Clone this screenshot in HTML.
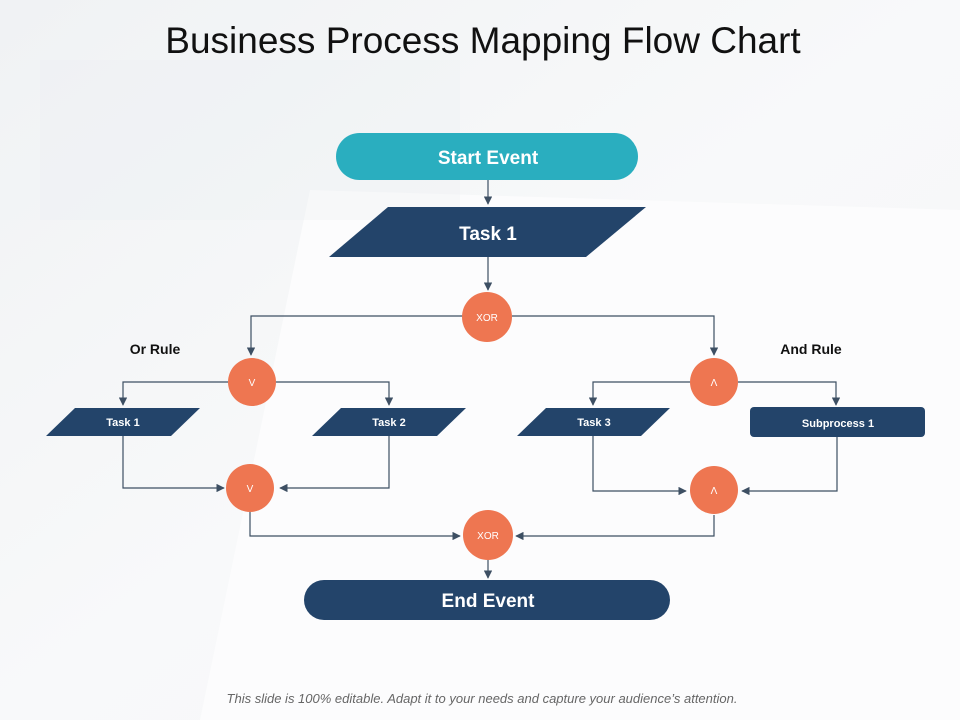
<!DOCTYPE html>
<html><head><meta charset="utf-8"><style>
html,body{margin:0;padding:0;}
body{width:960px;height:720px;overflow:hidden;background:#f7f8fa;}
svg{display:block;}
</style></head><body>
<svg width="960" height="720" viewBox="0 0 960 720" xmlns="http://www.w3.org/2000/svg" font-family="Liberation Sans, Arial, sans-serif">
<defs>
<linearGradient id="bg" x1="0" y1="0" x2="1" y2="1">
<stop offset="0" stop-color="#f0f2f4"/><stop offset="0.5" stop-color="#f8f9fa"/><stop offset="1" stop-color="#f5f6f7"/>
</linearGradient>
<marker id="ar" viewBox="0 0 10 10" refX="9" refY="5" markerWidth="7" markerHeight="7" orient="auto-start-reverse">
<path d="M0,0 L10,5 L0,10 z" fill="#3d4f63"/>
</marker>
</defs>
<rect width="960" height="720" fill="url(#bg)"/>
<polygon points="310,190 960,210 960,720 200,720" fill="#fcfcfd"/>
<rect x="40" y="60" width="420" height="160" fill="#eceff1" opacity="0.3"/>

<text x="483" y="53" text-anchor="middle" font-size="37" fill="#111">Business Process Mapping Flow Chart</text>

<g stroke="#3d4f63" stroke-width="1.2" fill="none">
<line x1="488" y1="180" x2="488" y2="204" marker-end="url(#ar)"/>
<line x1="488" y1="257" x2="488" y2="290" marker-end="url(#ar)"/>
<polyline points="463,316 251,316 251,355" marker-end="url(#ar)"/>
<polyline points="512,316 714,316 714,355" marker-end="url(#ar)"/>
<polyline points="228,382 123,382 123,405" marker-end="url(#ar)"/>
<polyline points="276,382 389,382 389,405" marker-end="url(#ar)"/>
<polyline points="123,436 123,488 224,488" marker-end="url(#ar)"/>
<polyline points="389,436 389,488 280,488" marker-end="url(#ar)"/>
<polyline points="250,512 250,536 460,536" marker-end="url(#ar)"/>
<polyline points="690,382 593,382 593,405" marker-end="url(#ar)"/>
<polyline points="738,382 836,382 836,405" marker-end="url(#ar)"/>
<polyline points="593,436 593,491 686,491" marker-end="url(#ar)"/>
<polyline points="837,437 837,491 742,491" marker-end="url(#ar)"/>
<polyline points="714,515 714,536 516,536" marker-end="url(#ar)"/>
<line x1="488" y1="560" x2="488" y2="578" marker-end="url(#ar)"/>
</g>

<rect x="336" y="133" width="302" height="47" rx="23.5" fill="#2aaebf"/>
<text x="488" y="164" text-anchor="middle" font-size="19" font-weight="bold" fill="#fff">Start Event</text>

<polygon points="388,207 646,207 586,257 329,257" fill="#23446a"/>
<text x="488" y="240" text-anchor="middle" font-size="19" font-weight="bold" fill="#fff">Task 1</text>

<g fill="#ee7651">
<circle cx="487" cy="317" r="25"/>
<circle cx="252" cy="382" r="24"/>
<circle cx="250" cy="488" r="24"/>
<circle cx="714" cy="382" r="24"/>
<circle cx="714" cy="490" r="24"/>
<circle cx="488" cy="535" r="25"/>
</g>
<g fill="#fff" font-size="10" text-anchor="middle">
<text x="487" y="321">XOR</text>
<text x="488" y="539">XOR</text>
<text x="252" y="386">V</text>
<text x="250" y="492">V</text>
<text x="714" y="386">Λ</text>
<text x="714" y="494">Λ</text>
</g>

<text x="155" y="354" text-anchor="middle" font-size="14" font-weight="bold" fill="#111">Or Rule</text>
<text x="811" y="354" text-anchor="middle" font-size="14" font-weight="bold" fill="#111">And Rule</text>

<g fill="#23446a">
<polygon points="75,408 200,408 171,436 46,436"/>
<polygon points="341,408 466,408 437,436 312,436"/>
<polygon points="546,408 670,408 641,436 517,436"/>
<rect x="750" y="407" width="175" height="30" rx="4"/>
</g>
<g fill="#fff" font-size="11" font-weight="bold" text-anchor="middle">
<text x="123" y="426">Task 1</text>
<text x="389" y="426">Task 2</text>
<text x="594" y="426">Task 3</text>
<text x="838" y="427">Subprocess 1</text>
</g>

<rect x="304" y="580" width="366" height="40" rx="20" fill="#23446a"/>
<text x="488" y="607" text-anchor="middle" font-size="19" font-weight="bold" fill="#fff">End Event</text>

<text x="482" y="703" text-anchor="middle" font-size="13" font-style="italic" fill="#666">This slide is 100% editable. Adapt it to your needs and capture your audience’s attention.</text>
</svg>
</body></html>
